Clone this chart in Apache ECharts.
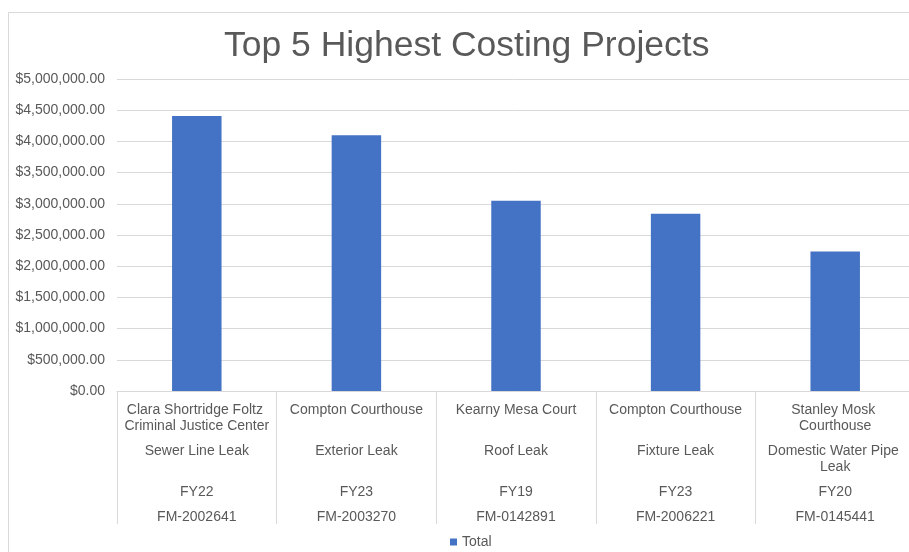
<!DOCTYPE html>
<html>
<head>
<meta charset="utf-8">
<title>Top 5 Highest Costing Projects</title>
<script src="https://cdn.jsdelivr.net/npm/echarts@6/dist/echarts.min.js"></script>
<style>
	html, body { margin: 0; padding: 0; background: #ffffff; }
	#chart { width: 909px; height: 552px; }
</style>
</head>
<body>
<div id="chart"></div>
<script>
// category levels, from the top row of the axis down
var buildings = ['Clara Shortridge Foltz Criminal Justice Center', 'Compton Courthouse', 'Kearny Mesa Court', 'Compton Courthouse', 'Stanley Mosk Courthouse'];
var issues = ['Sewer Line Leak', 'Exterior Leak', 'Roof Leak', 'Fixture Leak', 'Domestic Water Pipe Leak'];
var fiscalYears = ['FY22', 'FY23', 'FY19', 'FY23', 'FY20'];
var projectIds = ['FM-2002641', 'FM-2003270', 'FM-0142891', 'FM-2006221', 'FM-0145441'];
var totals = [4408000, 4100000, 3050000, 2840000, 2237000];

var textColor = '#595959';
var lineColor = '#d9d9d9';
var font = 'Liberation Sans, Arial, sans-serif';

function money(v) {
	var s = Math.round(v).toString().replace(/\B(?=(\d{3})+(?!\d))/g, ',');
	return '$' + s + '.00';
}

// one x axis per level, stacked under the plot by label margin
function levelAxis(data, margin, first) {
	return {
		type: 'category',
		position: 'bottom',
		data: data,
		axisLine: { show: first, lineStyle: { color: lineColor, width: 1 } },
		axisTick: { show: first, length: 133, lineStyle: { color: lineColor, width: 1 } },
		splitLine: { show: false },
		axisLabel: {
			interval: 0,
			margin: margin,
			color: textColor,
			fontFamily: font,
			fontSize: 14,
			lineHeight: 16,
			width: 152,
			overflow: 'break'
		}
	};
}

var chart = echarts.init(document.getElementById('chart'));
var option = {
	animation: false,
	backgroundColor: '#ffffff',
	title: {
		text: 'Top 5 Highest Costing Projects',
		left: 224,
		top: 28,
		padding: 0,
		textStyle: { color: textColor, fontFamily: font, fontSize: 35.5, fontWeight: 'normal' }
	},
	graphic: [{
		type: 'rect',
		shape: { x: 8.5, y: 12.5, width: 1000, height: 1000 },
		style: { fill: 'none', stroke: lineColor, lineWidth: 1 },
		silent: true
	}],
	legend: {
		data: ['Total'],
		left: 445,
		top: 530,
		icon: 'rect',
		itemWidth: 7,
		itemHeight: 7,
		textStyle: { color: textColor, fontFamily: font, fontSize: 14 }
	},
	grid: { left: 117, right: -6, top: 79, bottom: 161, outerBoundsMode: 'none' },
	xAxis: [
		levelAxis(buildings, 11, true),
		levelAxis(issues, 52, false),
		levelAxis(fiscalYears, 93, false),
		levelAxis(projectIds, 118, false)
	],
	yAxis: {
		type: 'value',
		min: 0,
		max: 5000000,
		interval: 500000,
		axisLine: { show: false },
		axisTick: { show: false },
		splitLine: { lineStyle: { color: lineColor, width: 1 } },
		axisLabel: {
			margin: 12,
			color: textColor,
			fontFamily: font,
			fontSize: 14,
			formatter: money
		}
	},
	series: [{
		name: 'Total',
		type: 'bar',
		xAxisIndex: 0,
		data: totals,
		barWidth: '31%',
		itemStyle: { color: '#4472c4' }
	}]
};
chart.setOption(option);
</script>
</body>
</html>
